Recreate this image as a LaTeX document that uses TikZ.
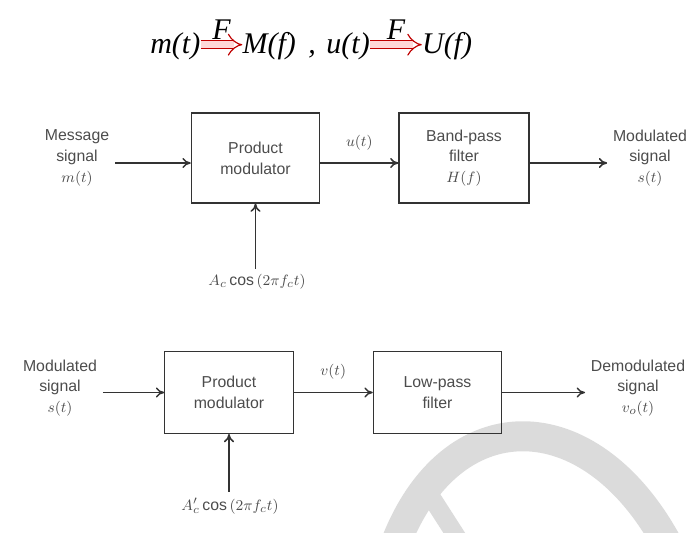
\documentclass[tikz,border=0pt]{standalone}
\usepackage{amsmath}
\usepackage{fontspec}
\setmainfont{Liberation Sans}
\newfontfamily\titlefont{Liberation Serif}
\usetikzlibrary{arrows.meta,positioning}

\begin{document}
\begin{tikzpicture}[x=0.6pt,y=-0.6pt,>={To[length=5pt,width=6pt]},
  every node/.style={font=\fontsize{9.5}{12.5}\selectfont,text=black!70},
  blockbox/.style={draw=black!80,line width=0.7pt,minimum width=77pt,align=center},
  sig/.style={align=center},
  link/.style={->,draw=black!80,line width=0.9pt},
  ftrans/.style={draw=red!75!black,double=red!15,double distance=4pt,line width=0.7pt,-{Implies}},
  ttl/.style={font=\titlefont\fontsize{18}{20}\selectfont\itshape,text=black,inner sep=0pt,anchor=base west}]
  \useasboundingbox (0,0) rectangle (691,533);
  % watermark
  \draw[black!14,line width=18pt] (395,545) .. controls (450,400) and (590,400) .. (668,545);
  \draw[black!14,line width=11pt] (428,492) -- (462,545);
  % m(t) -F-> M(f) , u(t) -F-> U(f)
  \node[ttl] (mt) at (150,53) {m(t)};
  \node[ttl,right=25pt of mt.base east,anchor=base west] (Mf) {M(f)};
  \node[ttl,right=7pt of Mf.base east,anchor=base west] (comma) {,};
  \node[ttl,right=6pt of comma.base east,anchor=base west] (ut) {u(t)};
  \node[ttl,right=31pt of ut.base east,anchor=base west] (Uf) {U(f)};
  \draw[ftrans] ([yshift=5pt]mt.base east) -- ([yshift=5pt]Mf.base west)
    node[midway,above=2.5pt,ttl,anchor=south]{F};
  \draw[ftrans] ([yshift=5pt]ut.base east) -- ([yshift=5pt]Uf.base west)
    node[midway,above=2.5pt,ttl,anchor=south]{F};
  % modulator
  \node[sig] (msg) at (77,158) {Message\\signal\\$m(t)$};
  \node[blockbox,minimum height=54pt] (pm1) at (255.5,158) {Product\\modulator};
  \node[blockbox,minimum height=54pt,minimum width=78pt] (bpf) at (464,158) {Band-pass\\filter\\$H(f)$};
  \node[sig] (mod) at (650,158) {Modulated\\signal\\$s(t)$};
  \node (car1) at (257,282) {$A_c\cos\,(2\pi f_c t)$};
  \draw[link] ([yshift=-3pt]msg.east) -- ([yshift=-3pt]pm1.west);
  \draw[link] ([yshift=-3pt]pm1.east) -- ([yshift=-3pt]bpf.west) node[midway,above=4pt]{$u(t)$};
  \draw[link] ([yshift=-3pt]bpf.east) -- ([yshift=-3pt]mod.west);
  \draw[link] (pm1.south |- car1.north) -- (pm1.south);
  % demodulator
  \node[sig] (modin) at (60,388) {Modulated\\signal\\$s(t)$};
  \node[blockbox,minimum height=49pt] (pm2) at (229,392.5) {Product\\modulator};
  \node[blockbox,minimum height=49pt] (lpf) at (437.5,392.5) {Low-pass\\filter};
  \node[sig] (demod) at (638,388) {Demodulated\\signal\\$v_o(t)$};
  \node (car2) at (230,506) {$A_c'\cos\,(2\pi f_c t)$};
  \draw[link] (modin.east |- pm2.west) -- (pm2.west);
  \draw[link] (pm2.east) -- (lpf.west) node[midway,above=4pt]{$v(t)$};
  \draw[link] (lpf.east) -- (demod.west |- lpf.east);
  \draw[link] (pm2.south |- car2.north) -- (pm2.south);
\end{tikzpicture}
\end{document}
